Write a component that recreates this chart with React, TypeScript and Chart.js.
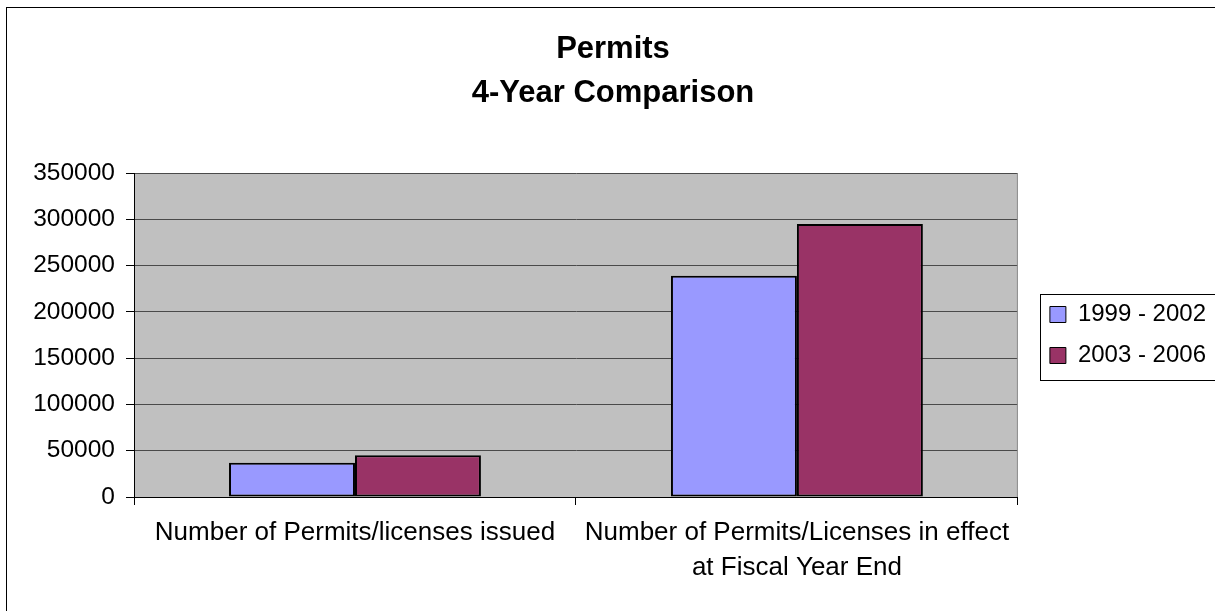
import React, { useEffect, useRef } from "react";
import { Chart, registerables } from "chart.js";

Chart.register(...registerables);

// ---- data ----
const categories = [
  ["Number of Permits/licenses issued"],
  ["Number of Permits/Licenses in effect", "at Fiscal Year End"],
];
const seriesNames = ["1999 - 2002", "2003 - 2006"];
const values1999to2002 = [37000, 239000];
const values2003to2006 = [45000, 295000];
const seriesColors = ["#9999FF", "#993366"];
const titleLines = ["Permits", "4-Year Comparison"];
const yMin = 0;
const yMax = 350000;
const yStep = 50000;

const FONT = '"Liberation Sans", Arial, sans-serif';

const decor = {
  id: "decor",
  beforeDraw(chart: any) {
    const { ctx, chartArea: a } = chart;
    ctx.save();
    ctx.fillStyle = "#ffffff";
    ctx.fillRect(0, 0, chart.width, chart.height);
    ctx.fillStyle = "#C0C0C0";
    ctx.fillRect(a.left, a.top, a.right - a.left, a.bottom - a.top);
    ctx.strokeStyle = "#000000";
    ctx.lineWidth = 1;
    ctx.strokeRect(6.5, 7.5, chart.width + 50, chart.height + 50);
    ctx.restore();
  },
  afterLayout(chart: any) {
    const lg = chart.legend;
    if (!lg) return;
    const shift = chart.chartArea.right + 15 - lg.left;
    lg.left += shift;
    lg.right += shift;
  },
  beforeDatasetsDraw(chart: any) {
    const { ctx, chartArea: a } = chart;
    ctx.save();
    ctx.strokeStyle = "#8c8c8c";
    ctx.lineWidth = 1;
    ctx.beginPath();
    ctx.moveTo(a.right - 0.5, a.top);
    ctx.lineTo(a.right - 0.5, a.bottom);
    ctx.stroke();
    ctx.restore();
  },
  afterDraw(chart: any) {
    const lg = chart.legend;
    if (!lg || !lg.legendHitBoxes || !lg.legendHitBoxes.length) return;
    const hb = lg.legendHitBoxes;
    const first = hb[0];
    const last = hb[hb.length - 1];
    const { ctx } = chart;
    ctx.save();
    ctx.strokeStyle = "#000000";
    ctx.lineWidth = 1;
    const left = Math.round(first.left - 10) + 0.5;
    const top = Math.round(first.top - 9) + 0.5;
    const bottom = Math.round(last.top + last.height + 12) + 0.5;
    ctx.strokeRect(left, top, chart.width + 20 - left, bottom - top);
    ctx.restore();
  },
};

export default function App() {
  const ref = useRef<HTMLCanvasElement>(null);

  useEffect(() => {
    const canvas = ref.current;
    if (!canvas) return;
    const chart = new Chart(canvas, {
      type: "bar",
      data: {
        labels: categories,
        datasets: [
          {
            label: seriesNames[0],
            data: values1999to2002,
            backgroundColor: seriesColors[0],
            borderColor: "#000000",
            borderWidth: 2,
            borderSkipped: false,
            barPercentage: 1,
            categoryPercentage: 0.57,
          },
          {
            label: seriesNames[1],
            data: values2003to2006,
            backgroundColor: seriesColors[1],
            borderColor: "#000000",
            borderWidth: 2,
            borderSkipped: false,
            barPercentage: 1,
            categoryPercentage: 0.57,
          },
        ],
      },
      options: {
        responsive: false,
        animation: false,
        devicePixelRatio: 1,
        layout: { padding: { left: 25, right: 25, top: 0, bottom: 0 } },
        plugins: {
          title: {
            display: true,
            text: titleLines,
            color: "#000000",
            font: { family: FONT, size: 31, weight: "bold", lineHeight: 44 / 31 },
            padding: { top: 27, bottom: 58 },
          },
          legend: {
            position: "right",
            fullSize: false,
            align: "center",
            labels: {
              color: "#000000",
              font: { family: FONT, size: 24 },
              boxWidth: 16,
              boxHeight: 16,
              padding: 17,
              generateLabels: (c: any) =>
                (Chart.defaults.plugins.legend.labels as any)
                  .generateLabels(c)
                  .map((l: any) => ({ ...l, lineWidth: 1 })),
            },
          },
          tooltip: { enabled: false },
        },
        scales: {
          x: {
            grid: {
              offset: true,
              drawOnChartArea: false,
              drawTicks: true,
              tickLength: 8,
              tickColor: "#000000",
              tickWidth: 1,
            },
            border: { color: "#000000", width: 1 },
            ticks: {
              color: "#000000",
              font: { family: FONT, size: 26, lineHeight: 35 / 26 },
              padding: 10,
              autoSkip: false,
              maxRotation: 0,
              minRotation: 0,
            },
            afterFit: (s: any) => {
              s.height = 133;
            },
          },
          y: {
            min: yMin,
            max: yMax,
            ticks: {
              stepSize: yStep,
              color: "#000000",
              font: { family: FONT, size: 24.5 },
              padding: 11,
              callback: (v: any) => String(v),
            },
            grid: {
              color: "#4a4a4a",
              tickColor: "#000000",
              tickLength: 8,
              lineWidth: 1,
            },
            border: { color: "#000000", width: 1 },
            afterFit: (s: any) => {
              s.width = 109;
            },
          },
        },
      },
      plugins: [decor],
    } as any);
    return () => chart.destroy();
  }, []);

  return (
    <div
      style={{
        position: "fixed",
        left: 0,
        top: 0,
        width: 1215,
        height: 611,
        overflow: "hidden",
        background: "#ffffff",
      }}
    >
      <canvas
        ref={ref}
        width={1226}
        height={630}
        style={{ display: "block", width: 1226, height: 630 }}
      />
    </div>
  );
}
